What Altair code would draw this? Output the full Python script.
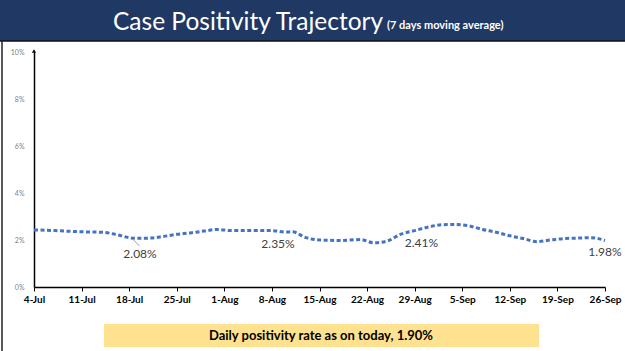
import altair as alt
import pandas as pd

# ---- data (day index 0 = 4-Jul) ----
days = [0, 3, 7, 10, 12, 14, 15, 17, 19, 21, 23, 25, 27, 29, 32, 35, 37, 38, 40, 42,
        45, 48, 50, 52, 54, 56, 58, 60, 62, 64, 66, 68, 70, 72, 74, 76, 78, 80, 82, 84]
rates = [2.43, 2.40, 2.35, 2.33, 2.24, 2.10, 2.07, 2.08, 2.15, 2.24, 2.30, 2.38, 2.45, 2.40,
         2.40, 2.40, 2.34, 2.35, 2.10, 2.00, 1.98, 2.02, 1.88, 1.96, 2.25, 2.40, 2.55, 2.65,
         2.66, 2.60, 2.45, 2.33, 2.18, 2.06, 1.93, 2.00, 2.06, 2.08, 2.10, 1.98]

tick_days = [0, 7, 14, 21, 28, 35, 42, 49, 56, 63, 70, 77, 84]
tick_labels = ["4-Jul", "11-Jul", "18-Jul", "25-Jul", "1-Aug", "8-Aug", "15-Aug",
               "22-Aug", "29-Aug", "5-Sep", "12-Sep", "19-Sep", "26-Sep"]
y_ticks = [0, 2, 4, 6, 8, 10]

ann_days = [15.6, 35.9, 57.0, 84.0]
ann_values = [2.08, 2.35, 2.41, 1.98]
ann_text = ["2.08%", "2.35%", "2.41%", "1.98%"]
ann_dy = [16, 12, 13, 12]

title_main = "Case Positivity Trajectory"
title_sub = "(7 days moving average)"
footer_text = "Daily positivity rate as on today, 1.90%"

FONT = "Lato"

df = pd.DataFrame({"day": days, "rate": rates})

x_enc = alt.X("day:Q", scale=alt.Scale(domain=[0, 84], nice=False, zero=False),
              axis=alt.Axis(values=tick_days,
                            labelExpr=f"{tick_labels}[round(datum.value/7)]",
                            labelFont=FONT, labelFontSize=10, labelFontWeight="bold",
                            labelColor="#000000", labelFlush=False, labelOverlap=False,
                            labelPadding=3, tickSize=4, tickColor="#000000",
                            domainColor="#000000", domainWidth=1.5, grid=False, title=None))
y_enc = alt.Y("rate:Q", scale=alt.Scale(domain=[0, 10], nice=False),
              axis=alt.Axis(values=y_ticks, labelExpr="datum.value + '%'",
                            labelFont=FONT, labelFontSize=7, labelColor="#7f7f7f",
                            labelPadding=10, ticks=False,
                            domainColor="#000000", domainWidth=1.5, grid=False, title=None))

line = alt.Chart(df).mark_line(color="#4472c4", strokeWidth=3, strokeDash=[4, 2.5],
                               interpolate="monotone").encode(x=x_enc, y=y_enc)

layers = [line]

# annotations
for d, v, t, dy in zip(ann_days, ann_values, ann_text, ann_dy):
    adf = pd.DataFrame({"day": [d], "rate": [v], "label": [t]})
    layers.append(
        alt.Chart(adf).mark_text(font=FONT, fontSize=12, color="#404040", dy=dy)
        .encode(x="day:Q", y="rate:Q", text="label:N")
    )

# leader line for first annotation
lead = pd.DataFrame({"day": [14.6], "rate": [2.02], "day2": [15.5], "rate2": [1.75]})
layers.append(alt.Chart(lead).mark_rule(color="#a0a0a0", strokeWidth=1)
              .encode(x="day:Q", y="rate:Q", x2="day2:Q", y2="rate2:Q"))

# axis arrow head
layers.append(alt.Chart(pd.DataFrame({"day": [0], "rate": [10]})).mark_point(
    shape="triangle-up", filled=True, color="#000000", size=18, opacity=1, yOffset=-1)
    .encode(x="day:Q", y="rate:Q"))

# title bar
dummy = pd.DataFrame({"a": [0]})
layers.append(alt.Chart(dummy).mark_rect(color="#1f3864").encode(
    x=alt.value(-34), x2=alt.value(591), y=alt.value(-52), y2=alt.value(-11)))
layers.append(alt.Chart(dummy).mark_rule(color="#111111", strokeWidth=1.5).encode(
    x=alt.value(-34), x2=alt.value(591), y=alt.value(-11), y2=alt.value(-11)))
layers.append(alt.Chart(dummy).mark_rule(color="#222222", strokeWidth=1.5).encode(
    x=alt.value(-32), x2=alt.value(-32), y=alt.value(-11), y2=alt.value(299)))
layers.append(alt.Chart(dummy).mark_text(font=FONT, fontSize=24.5, color="#ffffff",
                                         align="left", baseline="alphabetic").encode(
    x=alt.value(79), y=alt.value(-22), text=alt.value(title_main)))
layers.append(alt.Chart(dummy).mark_text(font=FONT, fontSize=11, fontWeight="bold",
                                         color="#ffffff",
                                         align="left", baseline="alphabetic").encode(
    x=alt.value(353), y=alt.value(-23), text=alt.value(title_sub)))

# footer box
layers.append(alt.Chart(dummy).mark_rect(color="#ffe28f").encode(
    x=alt.value(70), x2=alt.value(505), y=alt.value(272), y2=alt.value(295)))
layers.append(alt.Chart(dummy).mark_text(font=FONT, fontSize=13, fontWeight="bold",
                                         color="#000000", align="center",
                                         baseline="middle").encode(
    x=alt.value(287), y=alt.value(284), text=alt.value(footer_text)))

chart = alt.layer(*layers).properties(
    width=571, height=235,
    autosize=alt.AutoSizeParams(type="none"),
    padding={"left": 34, "top": 52, "right": 20, "bottom": 64},
    background="#ffffff",
).configure_view(stroke=None)

chart.save("out.html", embed_options={"renderer": "svg", "actions": False})
